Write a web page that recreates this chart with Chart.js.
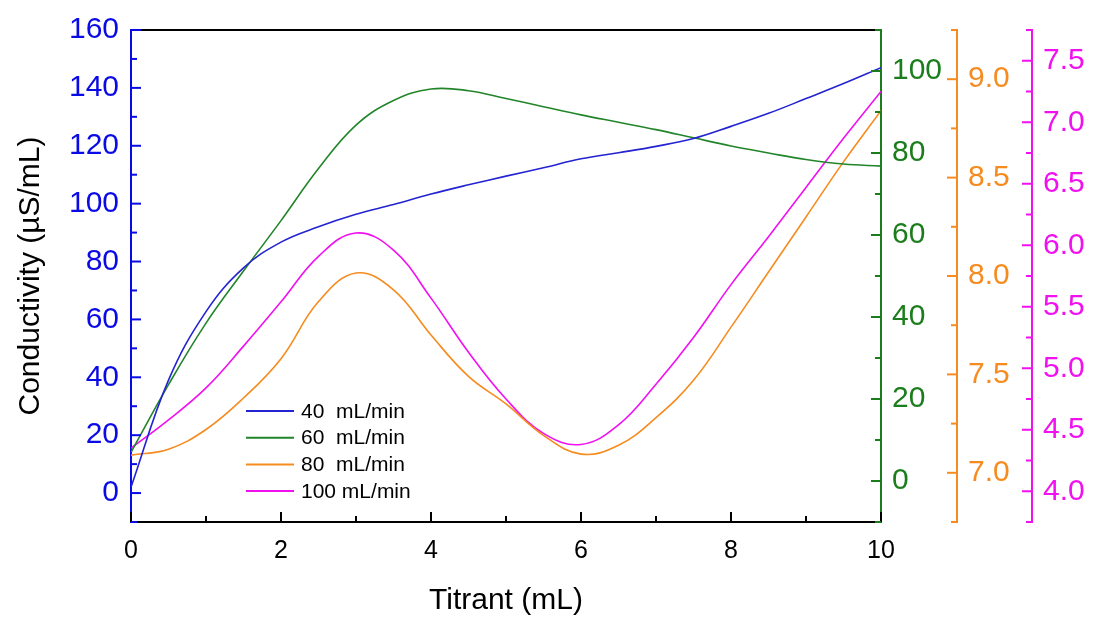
<!DOCTYPE html>
<html>
<head>
<meta charset="utf-8">
<script src="https://cdn.jsdelivr.net/npm/chart.js@4"></script>
<style>
  html, body { margin: 0; padding: 0; background: #ffffff; }
  #wrap { position: relative; width: 1113px; height: 619px; }
</style>
</head>
<body>
<div id="wrap"><canvas id="c"></canvas></div>
<script>
// ---- data ----
const titrant = [0, 0.5, 1, 1.5, 2, 2.5, 3, 3.5, 4, 4.5, 5, 5.5, 6, 6.5, 7, 7.5, 8, 8.5, 9, 9.5, 10];
const flow40  = [2, 39, 62.7, 77.8, 86.7, 92, 96.3, 99.7, 103.3, 106.5, 109.5, 112.4, 115.5, 117.6, 119.8, 122.5, 126.7, 131.2, 136.3, 141.5, 147];
const flow60  = [7, 23.5, 38.5, 51.2, 63.5, 76.2, 86.8, 92.8, 95.6, 95.2, 93.3, 91.3, 89.3, 87.5, 85.7, 83.7, 81.7, 80.0, 78.4, 77.3, 76.8];
const flow80  = [7.09, 7.12, 7.22, 7.38, 7.58, 7.87, 8.015, 7.93, 7.70, 7.49, 7.35, 7.19, 7.095, 7.14, 7.28, 7.47, 7.74, 8.02, 8.30, 8.58, 8.84];
const flow100 = [4.35, 4.58, 4.84, 5.18, 5.54, 5.91, 6.10, 5.96, 5.57, 5.13, 4.75, 4.47, 4.38, 4.54, 4.87, 5.25, 5.68, 6.07, 6.47, 6.87, 7.25];
const seriesLabels = ['40  mL/min', '60  mL/min', '80  mL/min', '100 mL/min'];
const xTitle = 'Titrant (mL)';
const yTitle = 'Conductivity (\u00B5S/mL)';

const FONT = "'Liberation Sans', Arial, sans-serif";
Chart.defaults.font.family = FONT;

const BLUE = '#0a0ae6', GREEN = '#1b7d1b', ORANGE = '#f68b1f', MAGENTA = '#f010f0';
const pts = arr => arr.map((v, i) => ({ x: titrant[i], y: v }));

const isMult = (v, step) => Math.abs(v / step - Math.round(v / step)) < 1e-6;

const tickPlugin = {
  id: 'axisTicks',
  afterDraw(chart) {
    const ctx = chart.ctx, ca = chart.chartArea;
    ctx.save();
    ctx.strokeStyle = '#000';
    ctx.lineWidth = 2;
    ctx.beginPath();
    ctx.moveTo(ca.left, ca.top);
    ctx.lineTo(ca.right, ca.top);
    ctx.stroke();
    for (const id of Object.keys(chart.scales)) {
      const s = chart.scales[id];
      const o = s.options;
      ctx.strokeStyle = o.border.color;
      ctx.lineWidth = 2;
      s.ticks.forEach(t => {
        const major = t.label !== '' && t.label !== undefined;
        const len = major ? 10 : 6;
        const p = s.getPixelForValue(t.value);
        ctx.beginPath();
        if (s.isHorizontal()) { ctx.moveTo(p, s.top); ctx.lineTo(p, s.top - len); }
        else if (o.position === 'left') { ctx.moveTo(s.right, p); ctx.lineTo(s.right + len, p); }
        else { ctx.moveTo(s.left, p); ctx.lineTo(s.left - len, p); }
        ctx.stroke();
      });
    }
    ctx.restore();
  }
};

const legendPlugin = {
  id: 'inlineLegend',
  afterDatasetsDraw(chart) {
    const ctx = chart.ctx, ca = chart.chartArea;
    const x0 = ca.left + 115, x1 = x0 + 48, tx = x1 + 7;
    const y0 = ca.top + 381, dy = 26.7;
    ctx.save();
    ctx.font = '21px ' + FONT;
    ctx.textBaseline = 'middle';
    ctx.textAlign = 'left';
    chart.data.datasets.forEach((ds, i) => {
      const y = y0 + i * dy;
      ctx.strokeStyle = ds.borderColor;
      ctx.lineWidth = 2;
      ctx.beginPath(); ctx.moveTo(x0, y); ctx.lineTo(x1, y); ctx.stroke();
      ctx.fillStyle = '#000';
      ctx.fillText(ds.label, tx, y + 1);
    });
    ctx.restore();
  }
};

function yAxis(opts) {
  return Object.assign({
    type: 'linear',
    grid: { display: false, drawTicks: false },
  }, opts);
}

new Chart(document.getElementById('c'), {
  type: 'line',
  data: {
    datasets: [
      { label: seriesLabels[0], data: pts(flow40), borderColor: '#2323d2', yAxisID: 'y' },
      { label: seriesLabels[1], data: pts(flow60), borderColor: '#22852a', yAxisID: 'yG' },
      { label: seriesLabels[2], data: pts(flow80), borderColor: ORANGE, yAxisID: 'yO' },
      { label: seriesLabels[3], data: pts(flow100), borderColor: MAGENTA, yAxisID: 'yM' },
    ]
  },
  options: {
    responsive: true,
    maintainAspectRatio: false,
    animation: false,
    layout: { padding: { top: 23, left: 0, right: 0, bottom: 0 } },
    elements: {
      point: { radius: 0 },
      line: { borderWidth: 1.6, tension: 0.4, fill: false }
    },
    plugins: { legend: { display: false }, tooltip: { enabled: false } },
    scales: {
      x: {
        type: 'linear', position: 'bottom', min: 0, max: 10,
        grid: { display: false, drawTicks: false },
        border: { color: '#000', width: 2 },
        ticks: { stepSize: 1, autoSkip: false, maxRotation: 0, padding: 14, color: '#000', font: { size: 25 },
                 callback: v => isMult(v, 2) ? String(v) : '' },
        title: { display: true, text: xTitle, color: '#000', font: { size: 30 }, padding: { top: 0, bottom: 0 } },
        afterFit: s => { s.height = 97; }
      },
      y: yAxis({
        position: 'left', min: -10, max: 160,
        border: { color: BLUE, width: 2 },
        ticks: { stepSize: 10, autoSkip: false, padding: 12, color: BLUE, font: { size: 30 },
                 callback: v => isMult(v, 20) ? String(v) : '' },
        title: { display: true, text: yTitle, color: '#000', font: { size: 30 }, padding: { top: 13, bottom: 0 } },
        afterFit: s => { s.width = 131; }
      }),
      yG: yAxis({
        position: 'right', min: -10, max: 110,
        border: { color: GREEN, width: 2 },
        ticks: { stepSize: 10, autoSkip: false, padding: 11, color: GREEN, font: { size: 30 },
                 callback: v => isMult(v, 20) ? String(v) : '' },
        afterFit: s => { s.width = 76; }
      }),
      yO: yAxis({
        position: 'right', min: 6.75, max: 9.25,
        border: { color: ORANGE, width: 2 },
        ticks: { stepSize: 0.25, autoSkip: false, padding: 11, color: ORANGE, font: { size: 30 },
                 callback: v => isMult(v, 0.5) ? v.toFixed(1) : '' },
        afterFit: s => { s.width = 75; }
      }),
      yM: yAxis({
        position: 'right', min: 3.75, max: 7.75,
        border: { color: MAGENTA, width: 2 },
        ticks: { stepSize: 0.25, autoSkip: false, padding: 11, color: MAGENTA, font: { size: 30 },
                 callback: v => isMult(v, 0.5) ? v.toFixed(1) : '' },
        afterFit: s => { s.width = 81; }
      })
    }
  },
  plugins: [tickPlugin, legendPlugin]
});
</script>
</body>
</html>
